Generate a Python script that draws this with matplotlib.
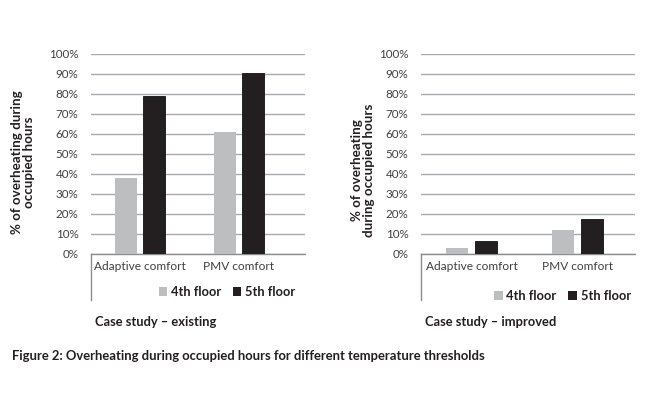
import numpy as np
import matplotlib.pyplot as plt
from matplotlib.patches import Patch
from matplotlib.ticker import PercentFormatter

plt.rcParams['font.family'] = ['Lato', 'DejaVu Sans']

categories = ['Adaptive comfort', 'PMV comfort']
series = ['4th floor', '5th floor']
existing_4th = [37.8, 60.8]
existing_5th = [79.0, 90.3]
improved_4th = [2.8, 12.1]
improved_5th = [6.4, 17.7]

col_4th = '#bdbec0'
col_5th = '#231f20'
grid_col = '#a7a9ac'
txt_col = '#231f20'

fig = plt.figure(figsize=(6.5, 3.96), dpi=100)


def draw_panel(ax, v4, v5, ylabel, ylab_xy, title, xlim, off, bw, leg_xy):
    x = np.arange(len(categories))
    ax.bar(x - off, v4, bw, color=col_4th, zorder=3)
    ax.bar(x + off, v5, bw, color=col_5th, edgecolor='#111111', linewidth=0.6, zorder=3)
    ax.set_ylim(0, 100)
    ax.set_xlim(*xlim)
    ax.set_yticks(np.arange(0, 101, 10))
    ax.yaxis.set_major_formatter(PercentFormatter(decimals=0))
    ax.grid(axis='y', color=grid_col, linewidth=1.0, zorder=0)
    for s in ['top', 'right', 'left']:
        ax.spines[s].set_visible(False)
    ax.spines['bottom'].set_color('#8a8c8e')
    ax.spines['bottom'].set_linewidth(1.0)
    ax.tick_params(axis='y', length=0, pad=9, labelsize=8.4, labelcolor='#404041')
    ax.tick_params(axis='x', length=0, pad=5, labelsize=8.6, labelcolor='#404041')
    ax.set_xticks(x)
    ax.set_xticklabels(categories)
    # vertical line hanging below the axis
    ax.plot([0, 0], [0, -0.23], transform=ax.transAxes, color='#8a8c8e',
            linewidth=1.0, clip_on=False)
    ax.set_ylabel(ylabel, fontsize=9.6, fontweight='bold', color=txt_col,
                  linespacing=1.0)
    ax.yaxis.set_label_coords(*ylab_xy)
    handles = [Patch(facecolor=col_4th, label=series[0]),
               Patch(facecolor=col_5th, label=series[1])]
    leg = ax.legend(handles=handles, loc='center', bbox_to_anchor=leg_xy, ncol=2,
                    frameon=False, handlelength=0.65, handleheight=0.65,
                    handletextpad=0.3, columnspacing=0.9,
                    prop={'weight': 'bold', 'size': 9.3})
    for t in leg.get_texts():
        t.set_color(txt_col)
    ax.text(0.02, -0.34, title, transform=ax.transAxes, fontsize=9.3,
            fontweight='bold', color=txt_col, va='center', ha='left')


ax1 = fig.add_axes([91 / 650, 1 - 254 / 396, 214 / 650, 200 / 396])
draw_panel(ax1, existing_4th, existing_5th,
           '% of overheating during\noccupied hours', (-0.262, 0.46),
           'Case study \u2013 existing', (-0.5, 1.67), 0.142, 0.22, (0.636, -0.19))

ax2 = fig.add_axes([421 / 650, 1 - 254 / 396, 214 / 650, 200 / 396])
draw_panel(ax2, improved_4th, improved_5th,
           '% of overheating\nduring occupied hours', (-0.215, 0.42),
           'Case study \u2013 improved', (-0.476, 1.542), 0.137, 0.21, (0.661, -0.21))

fig.text(12 / 650, 1 - 356 / 396,
         'Figure 2: Overheating during occupied hours for different temperature thresholds',
         fontsize=9.4, fontweight='bold', color=txt_col, va='center', ha='left')

fig.savefig('out.png', dpi=100)
